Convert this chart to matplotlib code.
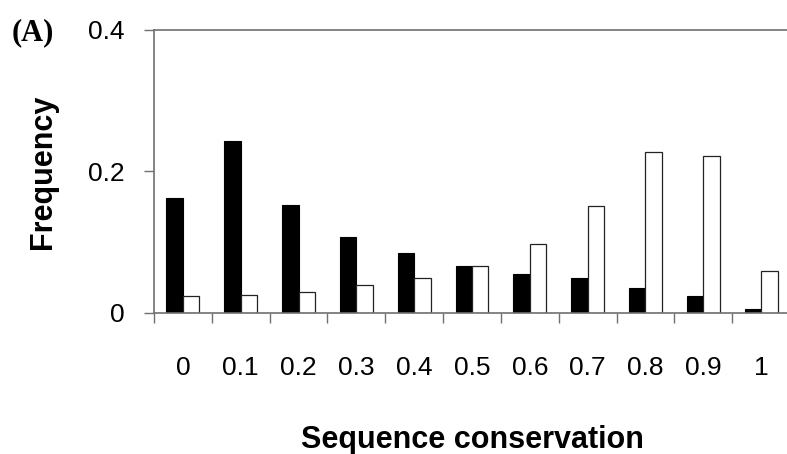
import numpy as np
import matplotlib
matplotlib.use("Agg")
import matplotlib.pyplot as plt

# bins of sequence conservation
categories = ["0", "0.1", "0.2", "0.3", "0.4", "0.5", "0.6", "0.7", "0.8", "0.9", "1"]
black_vals = [0.162, 0.243, 0.153, 0.108, 0.085, 0.066, 0.055, 0.049, 0.035, 0.024, 0.005]
white_vals = [0.024, 0.025, 0.030, 0.040, 0.050, 0.066, 0.098, 0.151, 0.227, 0.221, 0.059]
y_ticks = [0, 0.2, 0.4]
y_ticklabels = ["0", "0.2", "0.4"]

AXIS_GRAY = "#707070"

fig = plt.figure(figsize=(7.87, 4.54), dpi=100)
ax = fig.add_axes([154 / 787, 141 / 454, 636 / 787, 283.3 / 454])

x = np.arange(len(categories))
w = 0.285
ax.bar(x - w / 2, black_vals, w, color="black", edgecolor="black", linewidth=0.8)
ax.bar(x + w / 2, white_vals, w, color="white", edgecolor="#222222", linewidth=0.9)

ax.set_xlim(-0.5, len(categories) - 0.5)
ax.set_ylim(0, 0.4)

# boundary ticks between categories, labels at centres
ax.set_xticks(np.arange(-0.5, len(categories), 1.0))
ax.set_xticklabels([])
ax.set_xticks(x, minor=True)
ax.set_xticklabels(categories, minor=True, fontsize=19, family="Liberation Sans")
ax.tick_params(axis="x", which="major", direction="out", length=7.5, width=1, color=AXIS_GRAY)
ax.tick_params(axis="x", which="minor", length=0, pad=31)

ax.set_yticks(y_ticks)
ax.set_yticklabels(y_ticklabels, fontsize=19, family="Liberation Sans")
ax.tick_params(axis="y", direction="out", length=7.5, width=1, color=AXIS_GRAY, pad=14)

for side in ["left", "bottom", "top"]:
    ax.spines[side].set_color(AXIS_GRAY)
    ax.spines[side].set_linewidth(1.2)
ax.spines["right"].set_visible(False)

ax.set_ylabel("Frequency", fontsize=22, fontweight="bold", family="Liberation Sans")
ax.yaxis.set_label_coords((43 - 154) / 636, 0.5)
ax.yaxis.label.set_va("center")
ax.set_xlabel("Sequence conservation", fontsize=22, fontweight="bold", family="Liberation Sans")
ax.xaxis.set_label_coords(0.5, (313 - 440) / 283.3)
ax.xaxis.label.set_va("center")

fig.text(12 / 787, 1 - 33 / 454, "(A)", fontsize=22, fontweight="bold",
         family="Liberation Serif", va="center", ha="left")

fig.savefig("out.png", dpi=100)
